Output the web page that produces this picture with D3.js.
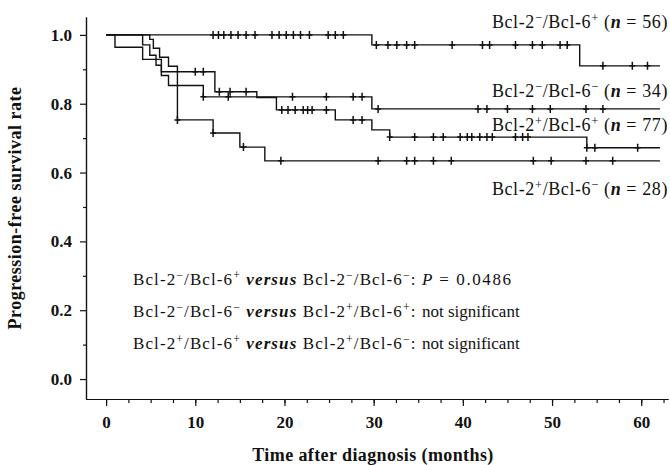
<!DOCTYPE html>
<html>
<head>
<meta charset="utf-8">
<script src="https://cdn.jsdelivr.net/npm/d3@7"></script>
<style>
  body { margin: 0; background: #fff; }
  text { font-family: "Liberation Serif", "Times New Roman", serif; fill: #111; }
  .axis path, .axis line { stroke: #111; stroke-width: 1.2; }
  .axis text { font-size: 17px; font-weight: bold; }
</style>
</head>
<body>
<svg id="chart" width="670" height="465"></svg>
<script>
// groups, in the order of the labels on the right
var bcl2Sign = ["\u2212", "\u2212", "+", "+"];
var bcl6Sign = ["+", "\u2212", "+", "\u2212"];
var groupN = [56, 34, 77, 28];

// Kaplan-Meier steps (month of event, survival after it)
var monthsA = [0, 29.8, 53.1];
var survA   = [1, 0.971, 0.91];
var censorA = [12, 12.6, 13.2, 14, 14.8, 15.7, 16.7, 18.6, 19.4, 20.2, 21, 21.8, 22.8, 24.9, 25.7, 26.6,
               30.3, 31.6, 32.6, 33.7, 34.6, 38.8, 42.2, 43, 45.9, 47.8, 48.9, 50.9, 51.7, 55.7, 59, 60.7];

var monthsB = [0, 4.1, 4.9, 5.6, 6.2, 7.0, 10.9, 29.8];
var survB   = [1, 0.971, 0.941, 0.912, 0.882, 0.853, 0.82, 0.785];
var censorB = [10.9, 13.7, 20.9, 24.7, 27.7, 28.7, 30.5, 41.7, 42.7, 45, 47.8, 49.8, 53.8, 55.7];

var monthsC = [0, 4.9, 5.3, 6.0, 7.0, 8.0, 12.2, 16.9, 19.1, 25.7, 29.8, 31.8, 53.9];
var survC   = [1, 0.987, 0.961, 0.935, 0.909, 0.893, 0.835, 0.818, 0.782, 0.753, 0.724, 0.703, 0.672];
var censorC = [10, 10.9, 12.7, 13.9, 15.7, 19.7, 20.4, 21.2, 22.1, 22.6, 23.1, 24.7, 27.7, 28.7, 31.8,
               34.6, 36.7, 37.8, 39.7, 40.5, 41, 41.9, 42.7, 43.3, 45.9, 46.7, 47.3, 53.9, 54.8, 59.6];

var monthsD = [0, 1.0, 4.1, 6.2, 8.0, 12.0, 15.0, 17.8];
var survD   = [1, 0.964, 0.929, 0.893, 0.753, 0.715, 0.674, 0.634];
var censorD = [8.0, 12.0, 15.4, 19.6, 30.5, 33.7, 34.6, 36.7, 38.7, 47.9, 49.9, 53.8, 56.8];

var lastMonth = 62.1;

var xTicks = [0, 10, 20, 30, 40, 50, 60];
var yTicks = [0, 0.2, 0.4, 0.6, 0.8, 1.0];

//////////////////////////////////////////////////////////////////////////////

var svg = d3.select("#chart");

var x = d3.scaleLinear().domain([-2.25, 63]).range([86, 668]);
var y = d3.scaleLinear().domain([-0.058, 1.052]).range([399, 17]);

// minor ticks first, then major ticks with labels
svg.append("g")
    .attr("class", "axis")
    .attr("transform", "translate(0,399)")
    .call(d3.axisBottom(x).tickValues(d3.range(0, 62.6, 2.5)).tickSize(4).tickSizeOuter(0).tickFormat(""));

svg.append("g")
    .attr("class", "axis")
    .attr("transform", "translate(0,399)")
    .call(d3.axisBottom(x).tickValues(xTicks).tickSize(7).tickSizeOuter(0).tickPadding(10).tickFormat(d3.format("d")));

svg.append("g")
    .attr("class", "axis")
    .attr("transform", "translate(86,0)")
    .call(d3.axisLeft(y).tickValues(d3.range(0.1, 1, 0.2)).tickSize(3).tickSizeOuter(0).tickFormat(""));

svg.append("g")
    .attr("class", "axis")
    .attr("transform", "translate(86,0)")
    .call(d3.axisLeft(y).tickValues(yTicks).tickSize(6).tickSizeOuter(0).tickPadding(8).tickFormat(d3.format(".1f")));

svg.append("text")
    .attr("x", 373).attr("y", 461)
    .attr("text-anchor", "middle")
    .style("font-size", "18px").style("font-weight", "bold").style("letter-spacing", "0.4px")
    .text("Time after diagnosis (months)");

svg.append("text")
    .attr("transform", "translate(21,208) rotate(-90)")
    .attr("text-anchor", "middle")
    .style("font-size", "18px").style("font-weight", "bold").style("letter-spacing", "0.5px")
    .text("Progression-free survival rate");

//////////////////////////////////////////////////////////////////////////////

var curves = [
  { months: monthsA, surv: survA, censor: censorA },
  { months: monthsB, surv: survB, censor: censorB },
  { months: monthsC, surv: survC, censor: censorC },
  { months: monthsD, surv: survD, censor: censorD }
];

function survAt(c, t) {
  var s = c.surv[0];
  c.months.forEach(function(m, i){ if (m <= t) s = c.surv[i]; });
  return s;
}

var line = d3.line()
    .x(function(d){ return x(d[0]); })
    .y(function(d){ return y(d[1]); })
    .curve(d3.curveStepAfter);

curves.forEach(function(c) {
  var pts = c.months.map(function(m, i){ return [m, c.surv[i]]; });
  pts.push([lastMonth, c.surv[c.surv.length - 1]]);

  svg.append("path")
      .attr("d", line(pts))
      .attr("fill", "none")
      .attr("stroke", "#111")
      .attr("stroke-width", 1.4);

  svg.append("g").selectAll("path")
      .data(c.censor)
      .enter().append("path")
      .attr("d", function(t){
        var cx = x(t), cy = y(survAt(c, t));
        return "M" + cx + "," + (cy - 4) + "V" + (cy + 4) + "M" + (cx - 3) + "," + cy + "H" + (cx + 3);
      })
      .attr("stroke", "#111")
      .attr("stroke-width", 1.5);
});

//////////////////////////////////////////////////////////////////////////////

// rich text: parts are [string, style], style "" | "sup" | "bi" | "i" | "wide" | "tight"
function richText(px, py, parts, anchor, size, spacing) {
  var t = svg.append("text")
      .attr("x", px).attr("y", py)
      .attr("text-anchor", anchor)
      .style("font-size", size + "px")
      .style("letter-spacing", spacing + "px");
  var shifted = false;
  parts.forEach(function(p) {
    var s = t.append("tspan").text(p[0]);
    if (p[1] === "sup") {
      s.attr("dy", -6).style("font-size", (size * 0.7) + "px");
      shifted = true;
    } else {
      if (shifted) { s.attr("dy", 6); shifted = false; }
      if (p[1] === "bi") s.style("font-weight", "bold").style("font-style", "italic");
      if (p[1] === "i") s.style("font-style", "italic");
      if (p[1] === "wide") s.style("letter-spacing", "1.6px");
      if (p[1] === "tight") s.style("letter-spacing", "0px");
    }
  });
  if (shifted) t.append("tspan").attr("dy", 6).text("");
  return t;
}

function groupParts(i) {
  return [["Bcl-2", ""], [bcl2Sign[i], "sup"], ["/Bcl-6", ""], [bcl6Sign[i], "sup"]];
}

var labelY = [28, 97, 131, 195];
groupN.forEach(function(n, i) {
  richText(668, labelY[i], groupParts(i).concat([[" (", ""], ["n", "bi"], [" = " + n + ")", ""]]), "end", 18, 0.6);
});

var compareText = ["P = 0.0486", "not significant", "not significant"];
var comparePairs = [[0, 1], [1, 2], [2, 3]];
var compareY = [285, 317, 349];

comparePairs.forEach(function(pair, k) {
  var tail = k === 0 ? [[": ", ""], ["P", "i"], [" = 0.0486", "wide"]] : [[": ", ""], [compareText[k], "tight"]];
  richText(133, compareY[k],
    groupParts(pair[0]).concat([[" ", ""], ["versus", "bi"], [" ", ""]], groupParts(pair[1]), tail),
    "start", 17, 1.1);
});
</script>
</body>
</html>
